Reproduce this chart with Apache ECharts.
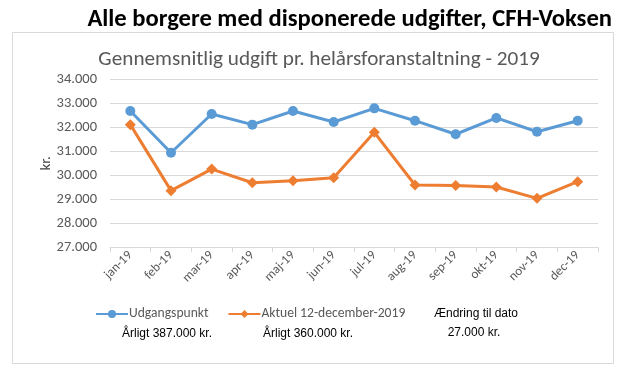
<!DOCTYPE html>
<html>
<head>
<meta charset="utf-8">
<script src="https://cdn.jsdelivr.net/npm/echarts@6/dist/echarts.min.js"></script>
<style>
html,body{margin:0;padding:0;background:#fff;}
#c{width:628px;height:374px;}
</style>
</head>
<body>
<div id="c"></div>
<script>
const categories = ['jan-19','feb-19','mar-19','apr-19','maj-19','jun-19','jul-19','aug-19','sep-19','okt-19','nov-19','dec-19'];
const udgangspunkt = [32680, 30940, 32555, 32110, 32680, 32220, 32790, 32275, 31710, 32390, 31815, 32275];
const aktuel = [32110, 29360, 30260, 29690, 29775, 29900, 31790, 29595, 29570, 29510, 29040, 29735];
const seriesNames = ['Udgangspunkt', 'Aktuel 12-december-2019'];
const mainTitle = 'Alle borgere med disponerede udgifter, CFH-Voksen';
const subTitle = 'Gennemsnitlig udgift pr. helårsforanstaltning - 2019';
const yName = 'kr.';
const noteTexts = ['Årligt 387.000 kr.', 'Årligt 360.000 kr.', 'Ændring til dato', '27.000 kr.'];

const calibri = "Carlito, 'Liberation Sans Narrow', 'Open Sans', sans-serif";
const arialN = "'Liberation Sans', Arial, sans-serif";
const chart = echarts.init(document.getElementById('c'), null, {renderer: 'canvas'});
function fmt(v){
  return String(v).replace(/\B(?=(\d{3})+(?!\d))/g, '.');
}
chart.setOption({
  animation: false,
  backgroundColor: '#fff',
  title: [
    {text: mainTitle, right: 11, top: 2, textStyle: {fontFamily: calibri, fontWeight: 'bold', fontSize: 24.6, color: '#000'}},
    {text: subTitle, left: 314, textAlign: 'center', top: 44, textStyle: {fontFamily: calibri, fontWeight: 'normal', fontSize: 21.2, color: '#595959'}}
  ],
  graphic: [
    {type: 'rect', shape: {x: 12.5, y: 32.5, width: 601, height: 331}, style: {fill: 'none', stroke: '#d9d9d9', lineWidth: 1}, z: -1},
    {type: 'text', x: 167, y: 334, style: {text: noteTexts[0], fontFamily: arialN, fontSize: 12, fill: '#000', align: 'center', verticalAlign: 'middle'}},
    {type: 'text', x: 308, y: 334, style: {text: noteTexts[1], fontFamily: arialN, fontSize: 12, fill: '#000', align: 'center', verticalAlign: 'middle'}},
    {type: 'text', x: 476, y: 314, style: {text: noteTexts[2], fontFamily: arialN, fontSize: 12, fill: '#000', align: 'center', verticalAlign: 'middle'}},
    {type: 'text', x: 474, y: 333, style: {text: noteTexts[3], fontFamily: arialN, fontSize: 12, fill: '#000', align: 'center', verticalAlign: 'middle'}}
  ],
  legend: {
    data: seriesNames,
    left: 90, top: 302,
    itemWidth: 32, itemHeight: 10, itemGap: 19,
    textStyle: {fontFamily: calibri, fontSize: 13.6, color: '#595959', padding: [0,0,0,-4]}
  },
  grid: {left: 110, right: 30, top: 79.3, bottom: 126.7},
  xAxis: {
    type: 'category',
    data: categories,
    boundaryGap: true,
    axisLine: {lineStyle: {color: '#d9d9d9'}},
    axisTick: {show: true, length: 5, lineStyle: {color: '#d9d9d9'}},
    axisLabel: {rotate: 45, fontFamily: calibri, fontSize: 13, color: '#595959', margin: 6}
  },
  yAxis: {
    type: 'value',
    min: 27000, max: 34000, interval: 1000,
    name: yName, nameLocation: 'middle', nameGap: 56, nameRotate: 90,
    nameMoveOverlap: false,
    nameTextStyle: {fontFamily: calibri, fontSize: 15, color: '#404040'},
    axisLine: {show: false},
    axisTick: {show: false},
    splitLine: {lineStyle: {color: '#d9d9d9'}},
    axisLabel: {formatter: fmt, fontFamily: calibri, fontSize: 14.5, color: '#595959', margin: 13}
  },
  series: [
    {name: seriesNames[0], type: 'line', data: udgangspunkt, symbol: 'circle', symbolSize: 10,
     lineStyle: {color: '#5B9BD5', width: 3}, itemStyle: {color: '#5B9BD5'}},
    {name: seriesNames[1], type: 'line', data: aktuel, symbol: 'diamond', symbolSize: 11,
     lineStyle: {color: '#ED7D31', width: 3}, itemStyle: {color: '#ED7D31'}}
  ]
});
</script>
</body>
</html>
